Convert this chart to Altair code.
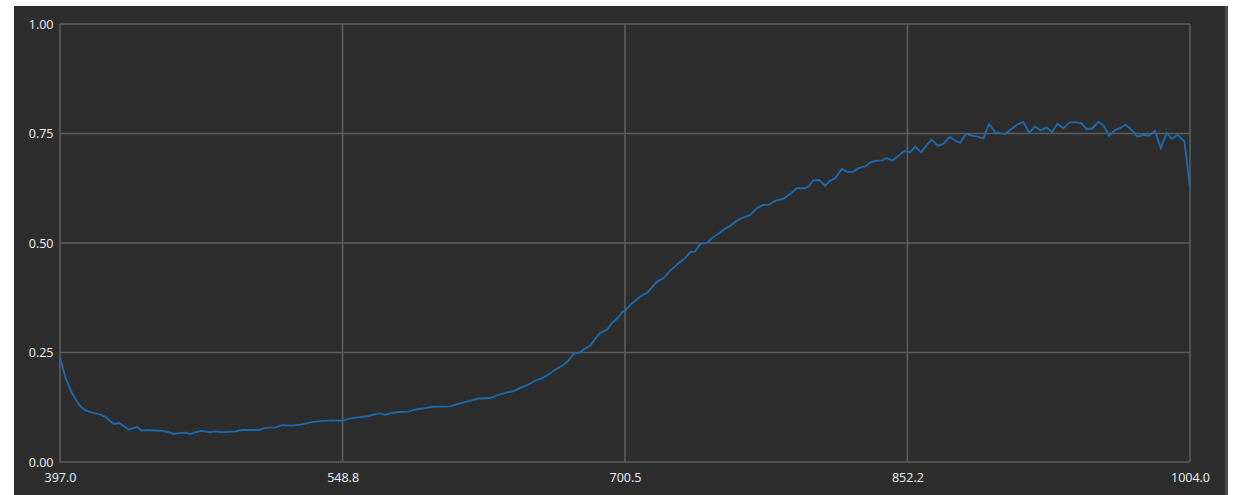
import altair as alt
import pandas as pd

wavelength = [
    397.0, 400.0, 402.6, 405.3, 408.0, 410.7, 413.4, 416.1, 418.7, 421.4, 424.1, 425.9, 428.6, 431.3, 433.9,
    436.6, 438.5, 440.8, 443.8, 448.3, 451.9, 455.4, 458.1, 460.8, 464.4, 467.1, 469.8, 472.4, 475.1, 477.8,
    480.5, 484.1, 487.6, 491.2, 494.8,
    496.6, 503.7, 507.3, 512.7, 516.3, 521.7, 527.0, 532.4, 537.8, 543.2, 548.8, 552.1, 557.4, 562.8, 568.2,
    571.8, 575.4, 578.9, 584.3, 587.9, 593.3, 596.9,
    598.6, 606.7, 611.1, 616.5, 621.9, 628.2, 631.8, 636.2, 640.7, 644.3, 648.7, 652.3, 655.9, 659.5, 663.1,
    667.5, 670.2, 672.9, 676.5, 678.3, 681.9, 684.5, 687.2, 690.8, 693.5, 696.2, 698.9,
    700.6, 704.2, 708.7, 712.3, 717.7, 721.2, 724.8, 729.3, 732.9, 735.5, 738.2, 740.9, 744.5, 747.2, 750.7,
    754.3, 757.0, 760.6, 763.3, 767.8, 771.4, 774.9, 777.6, 781.2, 785.6, 789.2, 792.8, 797.3, 799.1, 801.7,
    804.8, 808.0, 810.7, 813.4, 817.0, 820.2, 823.2, 825.9, 829.5, 832.7, 835.8, 838.5, 841.2, 844.2, 847.4,
    850.6, 853.7, 856.4, 859.6, 862.6, 865.3, 868.5, 871.5, 874.8, 877.8, 880.5, 883.6, 886.8, 890.0, 893.0,
    896.1, 899.3, 902.0,
    904.7, 907.4, 911.0, 914.5, 917.6, 920.8, 923.9, 927.1, 929.8, 932.8, 936.0, 939.2, 942.3, 945.5, 948.5,
    951.6, 954.8, 957.5, 960.5, 963.7, 966.4, 969.5, 972.7, 975.7, 978.9, 982.0, 985.2, 988.3, 991.5, 994.2,
    997.4, 1001.0, 1004.0,
]

reflectance = [
    0.238, 0.192, 0.165, 0.143, 0.127, 0.118, 0.114, 0.111, 0.108, 0.103, 0.093, 0.087, 0.089, 0.082, 0.074,
    0.078, 0.080, 0.072, 0.073, 0.072, 0.071, 0.068, 0.064, 0.066, 0.067, 0.064, 0.068, 0.071, 0.070, 0.068,
    0.070, 0.068, 0.069, 0.070, 0.073,
    0.073, 0.073, 0.078, 0.079, 0.084, 0.083, 0.086, 0.091, 0.094, 0.095, 0.094, 0.099, 0.102, 0.105, 0.111,
    0.108, 0.112, 0.114, 0.115, 0.120, 0.123, 0.126,
    0.126, 0.127, 0.133, 0.139, 0.145, 0.146, 0.152, 0.158, 0.162, 0.169, 0.177, 0.186, 0.191, 0.200, 0.211,
    0.222, 0.232, 0.247, 0.251, 0.257, 0.266, 0.281, 0.295, 0.302, 0.317, 0.327, 0.342,
    0.346, 0.362, 0.378, 0.386, 0.412, 0.420, 0.437, 0.454, 0.466, 0.479, 0.481, 0.498, 0.500, 0.511, 0.521,
    0.533, 0.539, 0.551, 0.557, 0.564, 0.580, 0.587, 0.587, 0.596, 0.601, 0.612, 0.625, 0.625, 0.629, 0.643,
    0.644, 0.631, 0.642, 0.648, 0.669, 0.662, 0.663, 0.671, 0.675, 0.685, 0.688, 0.688, 0.694, 0.688, 0.699,
    0.710, 0.707, 0.720, 0.707, 0.724, 0.736, 0.722, 0.726, 0.742, 0.734, 0.729, 0.749, 0.745, 0.743, 0.739,
    0.772, 0.753, 0.751,
    0.749, 0.758, 0.770, 0.776, 0.752, 0.766, 0.757, 0.764, 0.753, 0.772, 0.762, 0.775, 0.776, 0.774, 0.760,
    0.762, 0.777, 0.768, 0.745, 0.758, 0.762, 0.770, 0.758, 0.743, 0.747, 0.745, 0.756, 0.717, 0.751, 0.738,
    0.747, 0.732, 0.627,
]

x_ticks = [397.0, 548.8, 700.5, 852.2, 1004.0]
y_ticks = [0.0, 0.25, 0.5, 0.75, 1.0]

BG = "#2d2d2d"
GRID = "#5c5c5c"
TXT = "#eef3f8"
LINE = "#1c69ad"
FONT = "Open Sans"

df = pd.DataFrame({"wl": wavelength, "r": reflectance})
xs = alt.Scale(domain=[397.0, 1004.0], nice=False, zero=False)
ys = alt.Scale(domain=[0.0, 1.0], nice=False, zero=False)

x_axis = alt.Axis(values=x_ticks, format=".1f", grid=False, domain=False, ticks=False,
                  labelFlush=False, labelOverlap=False, labelPadding=9, title=None, zindex=1,
                  labelColor=TXT, labelFont=FONT, labelFontSize=12.5)
y_axis = alt.Axis(values=y_ticks, format=".2f", grid=False, domain=False, ticks=False,
                  labelFlush=False, labelOverlap=False, labelPadding=7, title=None, zindex=1,
                  labelColor=TXT, labelFont=FONT, labelFontSize=12.5, labelBaseline="middle")

one = pd.DataFrame({"a": [0]})
panel = alt.Chart(one).mark_rect(color=BG).encode(
    x=alt.value(-46), x2=alt.value(1165), y=alt.value(-18), y2=alt.value(480)
)
strip = alt.Chart(one).mark_rect(color="#4a4a4a").encode(
    x=alt.value(1165), x2=alt.value(1168), y=alt.value(-18), y2=alt.value(480)
)

vgrid = alt.Chart(pd.DataFrame({"x": x_ticks})).mark_rule(color=GRID, strokeWidth=1.6).encode(
    x=alt.X("x:Q", scale=xs, axis=x_axis)
)
hgrid = alt.Chart(pd.DataFrame({"y": y_ticks})).mark_rule(color=GRID, strokeWidth=1.6).encode(
    y=alt.Y("y:Q", scale=ys, axis=y_axis)
)

line = alt.Chart(df).mark_line(color=LINE, strokeWidth=1.9).encode(
    x=alt.X("wl:Q", scale=xs, axis=x_axis),
    y=alt.Y("r:Q", scale=ys, axis=y_axis),
)

chart = alt.layer(panel, strip, vgrid, hgrid, line).properties(
    width=1130, height=438,
    autosize=alt.AutoSizeParams(type="none"),
    padding={"left": 60, "top": 24, "right": 44, "bottom": 33},
    background="white",
).configure_view(stroke="transparent")

chart.save("out.html", embed_options={"renderer": "svg", "actions": False})
